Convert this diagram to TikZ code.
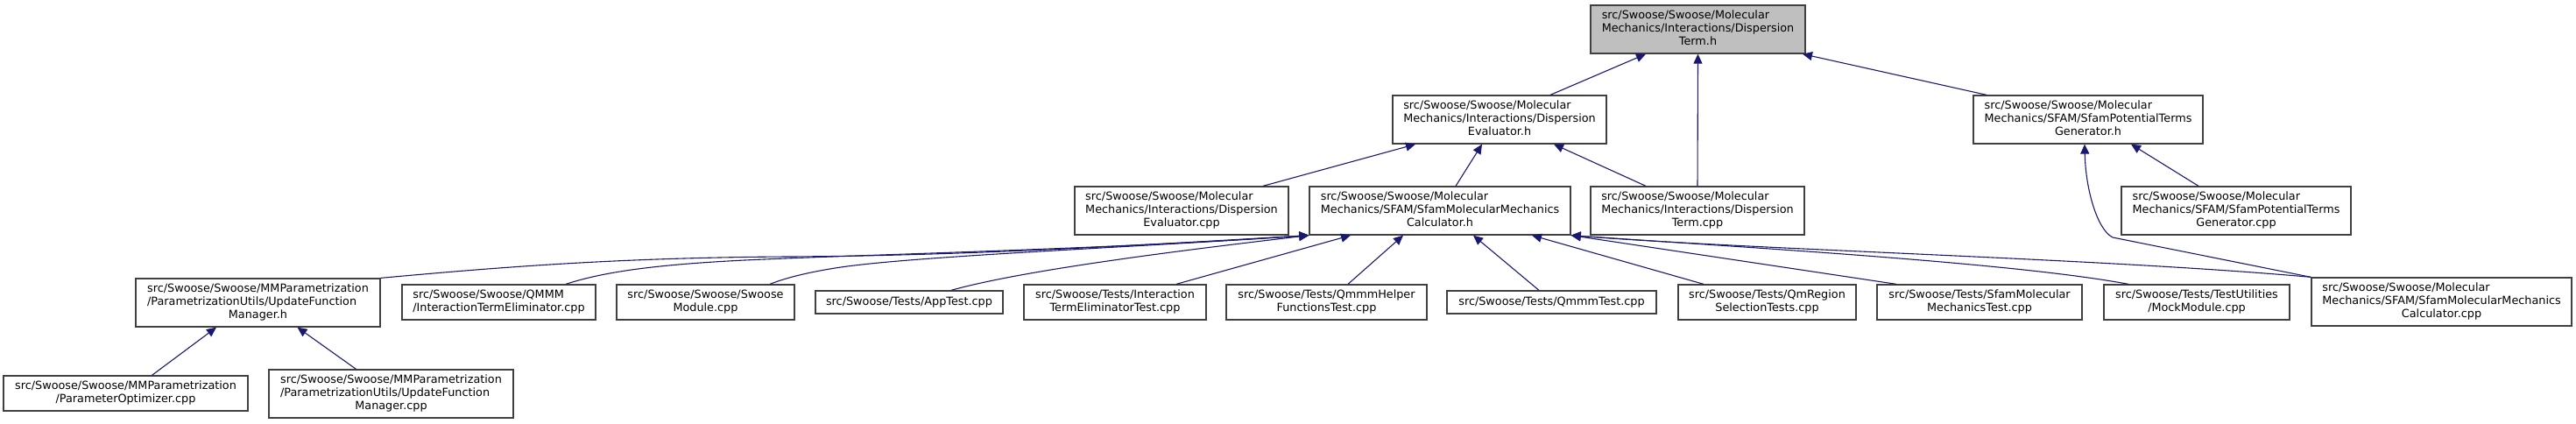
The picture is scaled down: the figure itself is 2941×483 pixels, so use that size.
\documentclass[tikz,border=0pt]{standalone}
\usepackage{fontspec}
\setmainfont{DejaVu Sans}
\usetikzlibrary{arrows.meta}
\definecolor{edgeblue}{HTML}{191970}
\definecolor{boxline}{HTML}{404040}
\definecolor{mainfill}{HTML}{BFBFBF}
\newcommand\dlab[2]{\begin{tabular}{@{}l@{}}#1\\\multicolumn{1}{@{}c@{}}{#2}\end{tabular}}
\begin{document}
\begin{tikzpicture}[x=1pt,y=-1pt,
  box/.style={draw=boxline, line width=1.3pt, fill=white, inner sep=0pt,
    font=\fontsize{12.8}{15}\selectfont},
  b3/.style={box, minimum height=55pt},
  b2/.style={box, minimum height=40pt},
  b1/.style={box, minimum height=26pt},
  dep/.style={draw=edgeblue, line width=1.1pt, {Triangle[length=11pt,width=10pt]}-}]
\useasboundingbox (0,0) rectangle (2941,483);
% row 1
\node[b3, fill=mainfill, minimum width=245pt] (dth) at (1938.5,33.5)
  {\dlab{src/Swoose/Swoose/Molecular\\Mechanics/Interactions/Dispersion}{Term.h}};
% row 2
\node[b3, minimum width=244pt] (deh) at (1712,136.5)
  {\dlab{src/Swoose/Swoose/Molecular\\Mechanics/Interactions/Dispersion}{Evaluator.h}};
\node[b3, minimum width=262pt] (ptgh) at (2384,136.5)
  {\dlab{src/Swoose/Swoose/Molecular\\Mechanics/SFAM/SfamPotentialTerms}{Generator.h}};
% row 3
\node[b3, minimum width=244pt] (decpp) at (1349,240.5)
  {\dlab{src/Swoose/Swoose/Molecular\\Mechanics/Interactions/Dispersion}{Evaluator.cpp}};
\node[b3, minimum width=298pt] (mmch) at (1644,240.5)
  {\dlab{src/Swoose/Swoose/Molecular\\Mechanics/SFAM/SfamMolecularMechanics}{Calculator.h}};
\node[b3, minimum width=244pt] (dtcpp) at (1938,240.5)
  {\dlab{src/Swoose/Swoose/Molecular\\Mechanics/Interactions/Dispersion}{Term.cpp}};
\node[b3, minimum width=262pt] (ptgcpp) at (2553,240.5)
  {\dlab{src/Swoose/Swoose/Molecular\\Mechanics/SFAM/SfamPotentialTerms}{Generator.cpp}};
% row 4
\node[b3, minimum width=279pt] (ufmh) at (294.5,345.5)
  {\dlab{src/Swoose/Swoose/MMParametrization\\/ParametrizationUtils/UpdateFunction}{Manager.h}};
\node[b2, minimum width=221pt] (qmmm) at (569.5,345)
  {\dlab{src/Swoose/Swoose/QMMM}{/InteractionTermEliminator.cpp}};
\node[b2, minimum width=203pt] (swm) at (805.5,345)
  {\dlab{src/Swoose/Swoose/Swoose}{Module.cpp}};
\node[b1, minimum width=214pt] (app) at (1038,345) {src/Swoose/Tests/AppTest.cpp};
\node[b2, minimum width=208pt] (itet) at (1273,345)
  {\dlab{src/Swoose/Tests/Interaction}{TermEliminatorTest.cpp}};
\node[b2, minimum width=229pt] (qhelp) at (1514.5,345)
  {\dlab{src/Swoose/Tests/QmmmHelper}{FunctionsTest.cpp}};
\node[b1, minimum width=239pt] (qtest) at (1771.5,345) {src/Swoose/Tests/QmmmTest.cpp};
\node[b2, minimum width=203pt] (qmreg) at (2017.5,345)
  {\dlab{src/Swoose/Tests/QmRegion}{SelectionTests.cpp}};
\node[b2, minimum width=234pt] (smmt) at (2260,345)
  {\dlab{src/Swoose/Tests/SfamMolecular}{MechanicsTest.cpp}};
\node[b2, minimum width=212pt] (mock) at (2508,345)
  {\dlab{src/Swoose/Tests/TestUtilities}{/MockModule.cpp}};
\node[b3, minimum width=297pt] (mmccpp) at (2787.5,344.5)
  {\dlab{src/Swoose/Swoose/Molecular\\Mechanics/SFAM/SfamMolecularMechanics}{Calculator.cpp}};
% row 5
\node[b2, minimum width=279pt] (popt) at (143.5,449)
  {\dlab{src/Swoose/Swoose/MMParametrization}{/ParameterOptimizer.cpp}};
\node[b3, minimum width=279pt] (ufmcpp) at (446.5,449.5)
  {\dlab{src/Swoose/Swoose/MMParametrization\\/ParametrizationUtils/UpdateFunction}{Manager.cpp}};
% edges
\draw[dep] ([xshift=-59.5pt]dth.south) -- ([xshift=58pt]deh.north);
\draw[dep] (dth.south) -- (dtcpp.north);
\draw[dep] ([xshift=119.5pt]dth.south) -- ([xshift=-116pt]ptgh.north);
\draw[dep] ([xshift=-96pt]deh.south) -- ([xshift=93pt]decpp.north);
\draw[dep] ([xshift=-20pt]deh.south) -- ([xshift=18pt]mmch.north);
\draw[dep] ([xshift=62pt]deh.south) -- ([xshift=-59pt]dtcpp.north);
\draw[dep] ([xshift=49pt]ptgh.south) -- ([xshift=-43pt]ptgcpp.north);
\draw[dep] ([xshift=-4pt]ptgh.south) .. controls (2381,215) and (2394,262) .. (2412,271) -- (mmccpp.north west);
\draw[dep] (mmch.south west) .. controls (1300,280) and (1100,292) .. (900,293)
  .. controls (700,294) and (560,306) .. (ufmh.north east);
\draw[dep] (mmch.south west) .. controls (1250,285) and (1000,290) .. (850,297)
  .. controls (750,302) and (690,310) .. ([xshift=76.5pt]qmmm.north);
\draw[dep] (mmch.south west) .. controls (1300,282) and (1050,292) .. (960,305)
  .. controls (920,311) and (895,318) .. ([xshift=73.5pt]swm.north);
\draw[dep] (mmch.south west) .. controls (1400,280) and (1180,305) .. ([xshift=48pt]app.north);
\draw[dep] ([xshift=-102pt]mmch.south) -- ([xshift=70pt]itet.north);
\draw[dep] ([xshift=-42pt]mmch.south) -- ([xshift=24.5pt]qhelp.north);
\draw[dep] ([xshift=38pt]mmch.south) -- ([xshift=-14.5pt]qtest.north);
\draw[dep] ([xshift=105pt]mmch.south) -- ([xshift=-72.5pt]qmreg.north);
\draw[dep] (mmch.south east) -- ([xshift=-95pt]smmt.north);
\draw[dep] (mmch.south east) .. controls (2000,283) and (2300,300) .. ([xshift=-78pt]mock.north);
\draw[dep] (mmch.south east) .. controls (2000,285) and (2400,295) .. (mmccpp.north west);
\draw[dep] ([xshift=-47.5pt]ufmh.south) -- ([xshift=30pt]popt.north);
\draw[dep] ([xshift=45pt]ufmh.south) -- ([xshift=-40pt]ufmcpp.north);
\end{tikzpicture}
\end{document}
